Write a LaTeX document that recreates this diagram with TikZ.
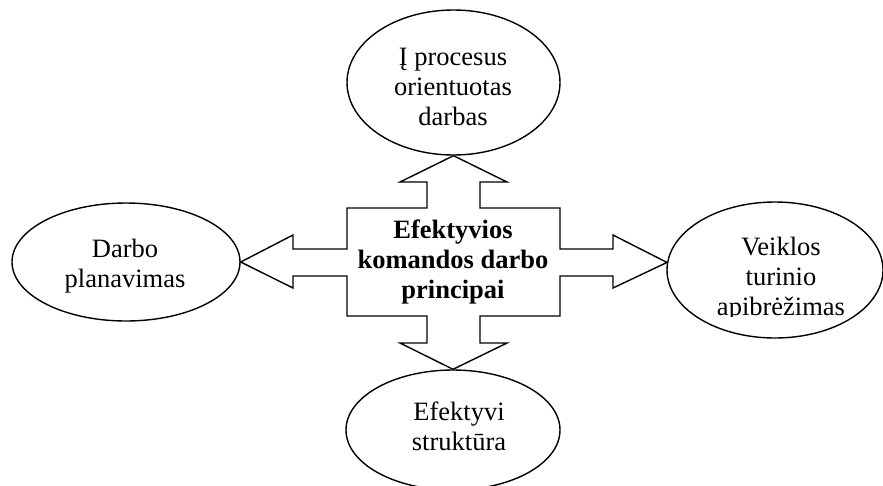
\documentclass[tikz,border=0pt]{standalone}
\usepackage{fontspec}
\setmainfont{Liberation Serif}
\usetikzlibrary{shapes.geometric}
\begin{document}
\begin{tikzpicture}[x=1pt,y=-1pt,
  oval/.style={ellipse,draw,line width=1.4pt,inner sep=0pt},
  caption/.style={align=center,inner sep=0pt,anchor=base,
    font=\fontsize{26.5}{30}\selectfont},
  frame/.style={draw,line width=1.4pt,line join=miter}]
\clip (0,0) rectangle (883,485);

% the four goals
\node[oval,minimum width=213pt,minimum height=145pt] (procesai)   at (453.5,82.5) {};
\node[oval,minimum width=228pt,minimum height=118pt] (planavimas) at (126,262) {};
\node[oval,minimum width=216pt,minimum height=136pt] (veikla)     at (775,270) {};
\node[oval,minimum width=214pt,minimum height=120pt] (struktura)  at (453,430) {};

% central cross with four arrow heads
\coordinate (tipN) at (procesai.south);
\coordinate (tipS) at (struktura.north);
\coordinate (tipW) at (planavimas.east);
\coordinate (tipE) at (veikla.176);
\draw[frame] (347,249) -- (347,208) -- (427,208) -- (427,182) -- (400,182)
  -- (tipN) -- (507,182) -- (480,182) -- (480,208) -- (560,208) -- (560,249)
  -- (613,249) -- (613,235) -- (tipE) -- (613,288) -- (613,276) -- (560,276)
  -- (560,316) -- (480,316) -- (480,343) -- (507,343) -- (tipS) -- (400,343)
  -- (427,343) -- (427,316) -- (347,316) -- (347,276) -- (293,276) -- (293,288)
  -- (tipW) -- (293,235) -- (293,249) -- cycle;

% texts (anchored at the baseline of their last line)
\node[caption,font=\fontsize{26.5}{30}\selectfont\bfseries] (centras) at (453,298)
  {Efektyvios\\komandos darbo\\principai};
\node[caption] (procesai-t) at (453,125) {Į procesus\\orientuotas\\darbas};
\node[caption] (planavimas-t) at (125,287) {Darbo\\planavimas};
\node[caption] (struktura-t) at (459,450) {Efektyvi\\struktūra};
\begin{scope}
  \clip (660,200) rectangle (883,316);
  \node[caption] (veikla-t) at (781,315) {Veiklos\\turinio\\apibrėžimas};
\end{scope}
\end{tikzpicture}
\end{document}
